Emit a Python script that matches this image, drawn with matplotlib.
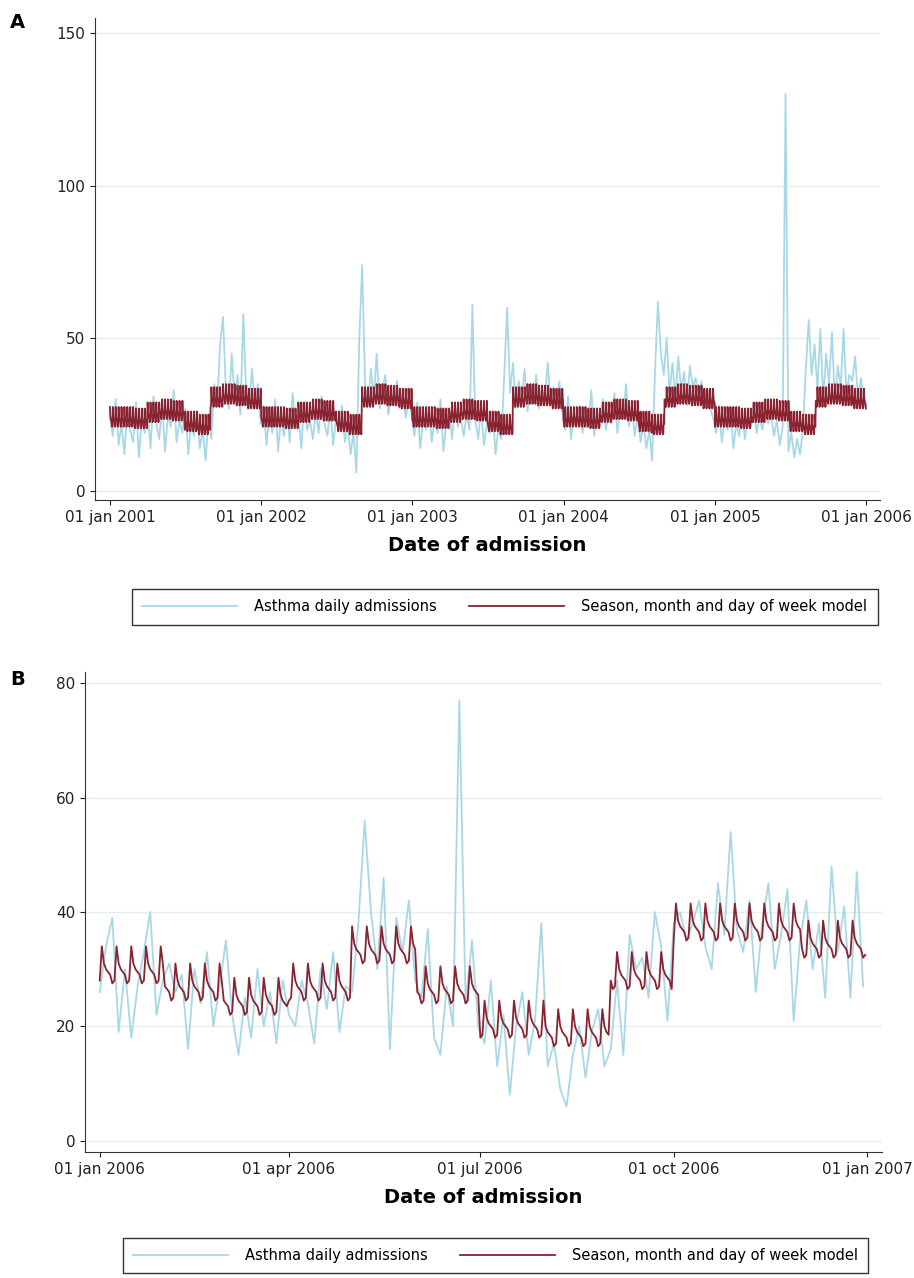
import numpy as np
import pandas as pd
import matplotlib
matplotlib.use("Agg")
import matplotlib.pyplot as plt

# ---------------- data ----------------
obs_a_2001 = [24,18,30,15,22,12,27,20,16,29,11,24,19,26,14,31,22,17,28,13,25,21,33,16,23,19,27,12,22,18,26,14,20,10,24,17,35,28,48,57,33,27,45,30,38,25,58,32,29,40,27,35]
obs_a_2002 = [22,28,15,25,19,30,13,24,18,27,16,32,21,25,14,29,20,23,17,26,19,31,22,18,27,15,24,20,28,16,22,12,19,6,50,74,35,28,40,30,45,27,33,38,25,31,29,36,27,33,24,30]
obs_a_2003 = [25,18,29,14,23,20,27,16,24,19,30,13,22,26,17,28,21,24,18,25,20,61,23,17,27,15,22,19,26,12,21,17,38,60,32,42,27,36,30,40,26,35,29,38,27,33,31,42,28,34,30,36]
obs_a_2004 = [26,20,31,17,25,22,28,19,27,21,33,18,26,23,30,20,25,22,32,19,27,24,35,21,28,18,25,16,22,14,20,10,40,62,45,38,50,32,42,30,44,33,39,28,41,34,37,30,36,29,33,27]
obs_a_2005 = [24,19,28,16,23,20,27,14,22,18,26,17,25,21,28,19,24,20,27,22,25,18,23,15,21,130,13,19,11,17,12,20,40,56,38,48,33,53,30,45,35,52,29,41,34,53,31,38,36,44,30,37,30]
obs_a = obs_a_2001 + obs_a_2002 + obs_a_2003 + obs_a_2004 + obs_a_2005

obs_b = [26,34,39,19,30,18,27,33,40,22,28,
         31,26,29,16,30,24,33,20,27,35,
         22,15,25,18,30,20,26,17,28,22,
         20,28,24,17,30,23,33,19,27,26,
         38,56,40,30,46,16,39,33,42,28,
         25,37,18,15,27,20,77,24,35,20,
         17,28,13,22,8,20,26,15,21,38,13,
         17,9,6,15,20,11,19,23,13,16,
         28,15,36,30,32,25,40,34,21,38,
         40,35,38,42,34,30,45,36,54,37,
         33,42,26,38,45,30,36,44,21,35,
         42,30,38,25,48,33,41,25,47,27]

# model baseline by month (Jan..Dec) and day-of-week offsets (Mon..Sun)
month_level_a = [22.5, 22.5, 22, 24, 25, 24.5, 21, 20, 29, 30, 29.5, 28.5]
month_level_b = [29, 26, 23.5, 26, 32.5, 25.5, 19.5, 18, 28, 36.5, 36.5, 33.5]
dow_offset = [5, 2, 1, 0.5, 0, -1.5, -1]

xticks_a = ["2001-01-01","2002-01-01","2003-01-01","2004-01-01","2005-01-01","2006-01-01"]
xticks_b = ["2006-01-01","2006-04-01","2006-07-01","2006-10-01","2007-01-01"]

light = "#a8d8e6"
dark = "#8b2230"

def model(days, levels):
    return np.array([levels[d.month-1] + dow_offset[d.weekday()] for d in days])

days_a = pd.date_range("2001-01-01", "2005-12-31", freq="D")
dates_obs_a = pd.date_range("2001-01-01", periods=len(obs_a), freq="7D")
days_b = pd.date_range("2006-01-01", "2006-12-31", freq="D")
dates_obs_b = pd.date_range("2006-01-01", periods=len(obs_b), freq="3D")

fig = plt.figure(figsize=(9.14, 12.78), dpi=100)
W, H = 914, 1278

def setup(ax, ticks, ylim, yticks):
    ax.set_ylim(*ylim)
    ax.set_yticks(yticks)
    ax.grid(axis="y", color="#e4eeee", lw=1)
    ax.set_axisbelow(True)
    for s in ["top", "right"]:
        ax.spines[s].set_visible(False)
    for s in ["left", "bottom"]:
        ax.spines[s].set_color("#333333")
    ax.set_xticks([pd.Timestamp(t) for t in ticks])
    ax.set_xticklabels([pd.Timestamp(t).strftime("%d %b %Y").lower() for t in ticks])
    ax.tick_params(labelsize=11, colors="#222222")
    ax.set_xlabel("Date of admission", fontsize=14, fontweight="bold", labelpad=8)

leg_kw = dict(loc="upper center", ncol=2, frameon=True, fancybox=False, edgecolor="black",
              fontsize=10.5, handlelength=6.5, columnspacing=2.2, handletextpad=1.2,
              borderpad=0.7)

axA = fig.add_axes([95/W, 1-500/H, 785/W, 482/H])
axA.plot(dates_obs_a, obs_a, color=light, lw=1.3, label="Asthma daily admissions")
axA.plot(days_a, model(days_a, month_level_a), color=dark, lw=1.3, label="Season, month and day of week model")
setup(axA, xticks_a, (-3, 155), [0, 50, 100, 150])
axA.set_xlim(pd.Timestamp("2000-11-26"), pd.Timestamp("2006-02-03"))
axA.legend(bbox_to_anchor=(0.522, -0.17), **leg_kw)

axB = fig.add_axes([85/W, 1-1152/H, 797/W, 480/H])
axB.plot(dates_obs_b, obs_b, color=light, lw=1.3)
axB.plot(days_b, model(days_b, month_level_b), color=dark, lw=1.3)
setup(axB, xticks_b, (-2, 82), [0, 20, 40, 60, 80])
axB.set_xlim(pd.Timestamp("2005-12-25"), pd.Timestamp("2007-01-08"))
axB.legend(axA.get_lines(), [l.get_label() for l in axA.get_lines()],
           bbox_to_anchor=(0.515, -0.163), **leg_kw)

fig.text(10/W, 1-28/H, "A", fontsize=14, fontweight="bold")
fig.text(10/W, 1-685/H, "B", fontsize=14, fontweight="bold")

fig.savefig("out.png", dpi=100)
